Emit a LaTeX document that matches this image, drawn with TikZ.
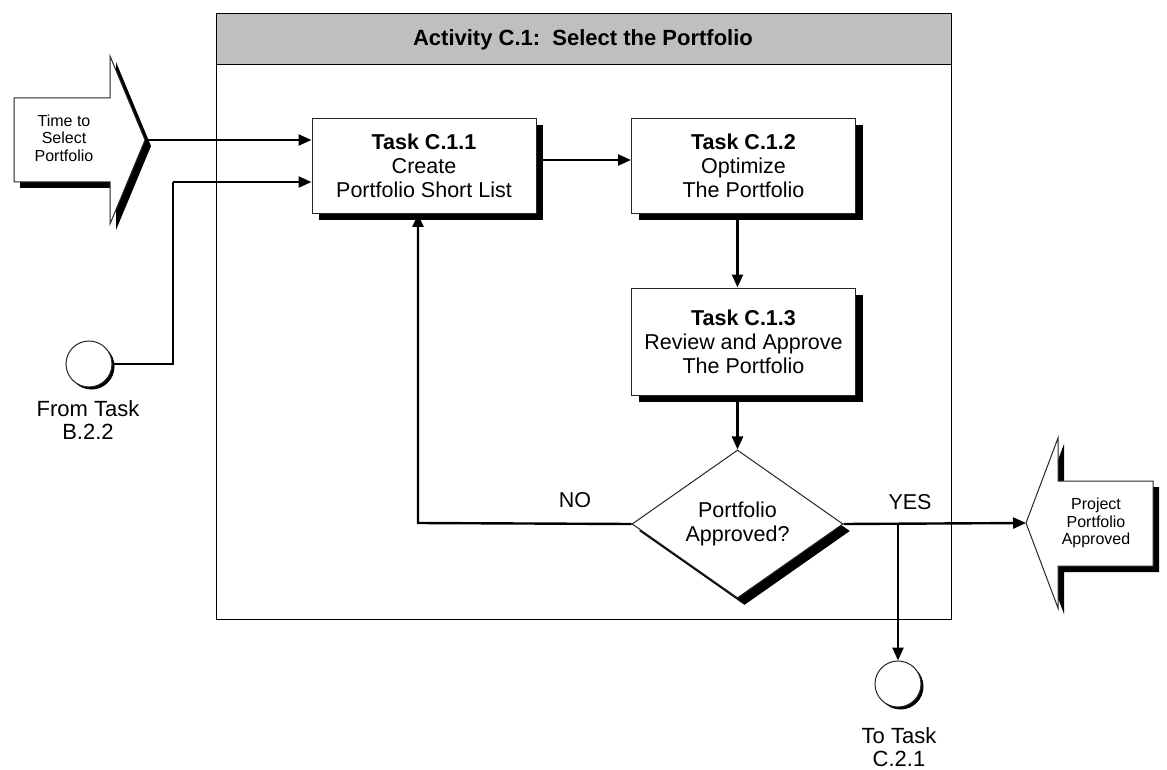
\documentclass[tikz,border=0pt]{standalone}
\usepackage{fontspec}
\setmainfont{Liberation Sans}
\usetikzlibrary{arrows.meta,shapes.geometric,shadows}
\begin{document}
\begin{tikzpicture}[x=1pt,y=-1pt,
  every node/.style={font=\fontsize{21.5}{24}\selectfont},
  hardshadow/.style={drop shadow={shadow xshift=7pt,shadow yshift=-7pt,opacity=1,fill=black}},
  smallshadow/.style={drop shadow={shadow xshift=2.5pt,shadow yshift=-2.5pt,opacity=1,fill=black}},
  taskbox/.style={draw=black!85,line width=1pt,fill=white,hardshadow,
    minimum width=224pt,align=center,inner sep=0pt},
  decision/.style={diamond,draw=black!85,line width=1pt,fill=white,hardshadow,
    minimum width=211pt,minimum height=112pt,inner sep=0pt,align=center},
  connector/.style={draw=black!85,fill=white,line width=1pt,smallshadow,circle,
    minimum size=46pt,inner sep=0pt},
  blockarrow/.style={draw=black!85,line width=1pt,fill=white,
    drop shadow={shadow xshift=6pt,shadow yshift=-6pt,opacity=1,fill=black}},
  flow/.style={line width=2.4pt,-{Triangle[length=13pt,width=11pt]}},
  plain/.style={line width=2pt},
  caption/.style={font=\fontsize{22}{23}\selectfont,align=center},
  smalltext/.style={font=\fontsize{16}{17.5}\selectfont,align=center}
]
\useasboundingbox (0,0) rectangle (1167,770);

% activity frame with grey title band
\fill[black!25] (216,14) rectangle (951,65);
\draw[line width=1pt] (216,65) -- (951,65);
\draw[line width=1pt] (216,14) rectangle (951,619);
\node[font=\bfseries\fontsize{22}{24}\selectfont] (title) at (583,40) {Activity C.1:\ \ Select the Portfolio};

% trigger arrow on the left
\path[blockarrow] (14,98) -- (110,98) -- (110,56) -- (145,140) -- (110,224) -- (110,182) -- (14,182) -- cycle;
\node[smalltext] (trigger) at (64,138) {Time to\\Select\\Portfolio};
\coordinate (inTip) at (145,140);

% outcome arrow on the right
\path[blockarrow] (1153,481) -- (1058,481) -- (1058,438) -- (1026,523) -- (1058,608) -- (1058,566) -- (1153,566) -- cycle;
\node[smalltext] (outcome) at (1096,523) {Project\\Portfolio\\Approved};
\coordinate (outTip) at (1026,523);

% tasks
\node[taskbox,minimum height=95pt] (t1) at (424,166) {\textbf{Task C.1.1}\\Create\\Portfolio Short List};
\node[taskbox,minimum height=95pt] (t2) at (743.5,166) {\textbf{Task C.1.2}\\Optimize\\The Portfolio};
\node[taskbox,minimum height=107pt] (t3) at (743.5,341.5) {\textbf{Task C.1.3}\\Review and Approve\\The Portfolio};

% decision
\node[decision] (d) at (737.5,524) {Portfolio\\Approved?};

% off-page connectors
\node[connector] (cB) at (89,364) {};
\node[caption] (cBl) at (88,420) {From Task\\B.2.2};
\node[connector] (cC) at (898,684) {};
\node[caption] (cCl) at (899,747) {To Task\\C.2.1};

% flow lines
\draw[flow] (inTip) -- (t1.west |- inTip);
\coordinate (j1) at (173,182);
\draw[plain] (cB.east) -| (j1);
\draw[flow] (j1) -- (t1.west |- j1);
\draw[flow] ([yshift=6pt]t1.east) -- ([yshift=6pt]t2.west);
\draw[flow] (t2.south -| d.north) -- (t3.north -| d.north);
\draw[flow] (t3.south -| d.north) -- (d.north);
\coordinate (noTurn) at (418,523);
\draw[flow] (d.west) -- (noTurn) -- (noTurn |- t1.south);
\draw[flow] (d.east) -- (outTip);
\coordinate (yesTurn) at (898,523);
\draw[flow] (yesTurn) -- (cC.north);

% branch labels
\node (no) at (575,500) {NO};
\node (yes) at (910,502) {YES};
\end{tikzpicture}
\end{document}
